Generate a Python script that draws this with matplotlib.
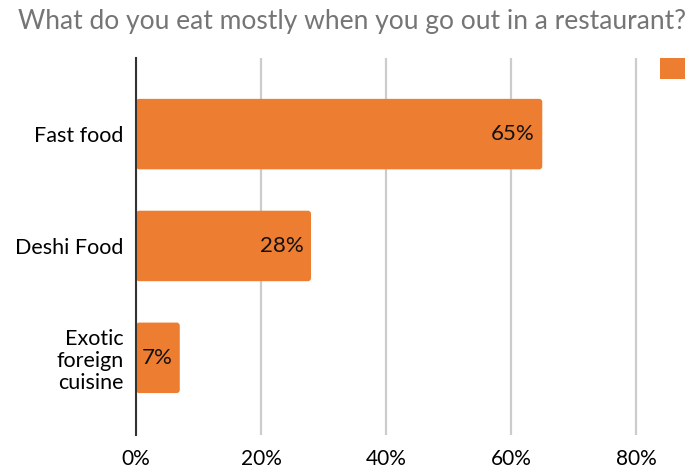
import matplotlib.pyplot as plt
from matplotlib.patches import FancyBboxPatch, Patch
from matplotlib.ticker import PercentFormatter

plt.rcParams['font.family'] = ['Lato', 'DejaVu Sans']

categories = ['Fast food', 'Deshi Food', 'Exotic\nforeign\ncuisine']
shares = [0.65, 0.28, 0.07]
bar_labels = ['65%', '28%', '7%']
ticks = [0, 0.2, 0.4, 0.6, 0.8]

orange = '#ED7D31'

fig = plt.figure(figsize=(6.88, 4.68), dpi=100)
ax = fig.add_axes([0.1977, 0.0705, 0.7631, 0.8055])

bars = ax.barh(range(len(categories)), shares, height=0.63, color=orange)

# swap the plain rectangles for slightly rounded ones
for rect in bars:
    rect.set_visible(False)
    x, y = rect.get_x(), rect.get_y()
    w, h = rect.get_width(), rect.get_height()
    ax.add_patch(FancyBboxPatch((x, y), w, h,
                                boxstyle='round,pad=0,rounding_size=0.005',
                                mutation_aspect=5.6, facecolor=orange,
                                edgecolor='none', zorder=3))

for rect, lab in zip(bars, bar_labels):
    ax.text(rect.get_width() - 0.012, rect.get_y() + rect.get_height() / 2, lab,
            ha='right', va='center', fontsize=16, color='#111111', zorder=4)

ax.set_xlim(0, 0.84)
ax.set_ylim(2.69, -0.68)
ax.set_xticks(ticks)
ax.xaxis.set_major_formatter(PercentFormatter(1.0, decimals=0))
ax.set_yticks(range(len(categories)))
ax.set_yticklabels(categories, fontsize=15.5, linespacing=1.13)
ax.tick_params(axis='x', labelsize=15, length=0, pad=10)
ax.tick_params(axis='y', length=0, pad=9)

ax.grid(axis='x', color='#cccccc', linewidth=1.6)
ax.set_axisbelow(True)
for side in ['top', 'right', 'bottom']:
    ax.spines[side].set_visible(False)
ax.spines['left'].set_color('#333333')
ax.spines['left'].set_linewidth(1.5)
ax.spines['left'].set_zorder(5)

fig.legend(handles=[Patch(facecolor=orange)], labels=[''],
           loc='upper right', bbox_to_anchor=(1.012, 0.9), frameon=False,
           handlelength=1.25, handleheight=1.25, handletextpad=0,
           borderpad=0.1, fontsize=14)

fig.text(0.511, 0.953, 'What do you eat mostly when you go out in a restaurant?',
         ha='center', va='center', fontsize=19, color='#757575')

fig.savefig('out.png', dpi=100)
